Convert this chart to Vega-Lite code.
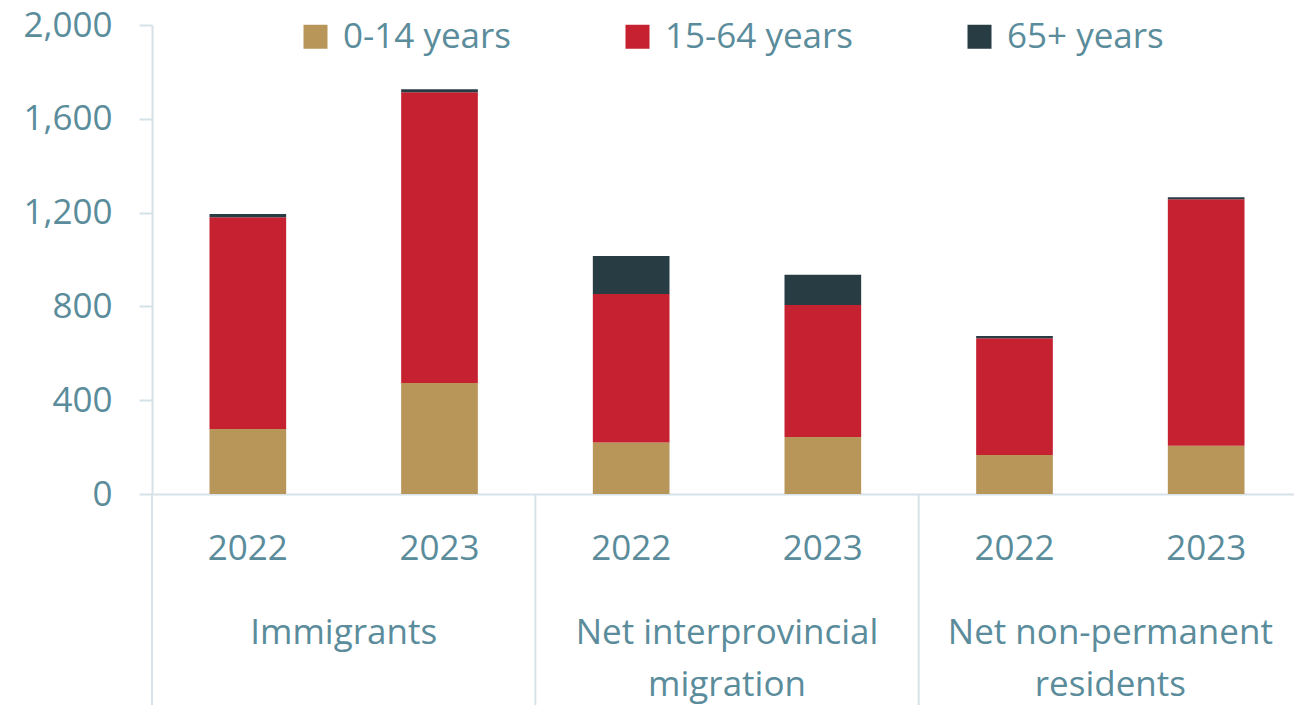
{
  "$schema": "https://vega.github.io/schema/vega-lite/v6.json",
  "width": 1150,
  "height": 469,
  "autosize": {"type": "none"},
  "padding": {"left": 152, "top": 25, "right": -8, "bottom": 211},
  "background": "white",
  "config": {
    "font": "Open Sans",
    "view": {"stroke": null},
    "axis": {"labelColor": "#5a8c9b", "labelFont": "Open Sans", "labelFontSize": 35},
    "legend": {"labelColor": "#5a8c9b", "labelFont": "Open Sans", "labelFontSize": 35}
  },
  "datasets": {
    "bars": [
      {"key": "Immigrants|2022", "age": "0-14 years", "value": 277},
      {"key": "Immigrants|2022", "age": "15-64 years", "value": 903},
      {"key": "Immigrants|2022", "age": "65+ years", "value": 14},
      {"key": "Immigrants|2023", "age": "0-14 years", "value": 473},
      {"key": "Immigrants|2023", "age": "15-64 years", "value": 1240},
      {"key": "Immigrants|2023", "age": "65+ years", "value": 13},
      {"key": "Net interprovincial migration|2022", "age": "0-14 years", "value": 220},
      {"key": "Net interprovincial migration|2022", "age": "15-64 years", "value": 633},
      {"key": "Net interprovincial migration|2022", "age": "65+ years", "value": 162},
      {"key": "Net interprovincial migration|2023", "age": "0-14 years", "value": 243},
      {"key": "Net interprovincial migration|2023", "age": "15-64 years", "value": 563},
      {"key": "Net interprovincial migration|2023", "age": "65+ years", "value": 129},
      {"key": "Net non-permanent residents|2022", "age": "0-14 years", "value": 166},
      {"key": "Net non-permanent residents|2022", "age": "15-64 years", "value": 498},
      {"key": "Net non-permanent residents|2022", "age": "65+ years", "value": 10},
      {"key": "Net non-permanent residents|2023", "age": "0-14 years", "value": 206},
      {"key": "Net non-permanent residents|2023", "age": "15-64 years", "value": 1051},
      {"key": "Net non-permanent residents|2023", "age": "65+ years", "value": 8}
    ],
    "groups": [
      {"first": "Immigrants|2022", "label": "Immigrants"},
      {"first": "Net interprovincial migration|2022", "label": "Net interprovincial\nmigration"},
      {"first": "Net non-permanent residents|2022", "label": "Net non-permanent\nresidents"}
    ]
  },
  "layer": [
    {
      "data": {"name": "bars"},
      "mark": {"type": "bar"},
      "encoding": {
        "x": {
          "field": "key",
          "type": "nominal",
          "sort": null,
          "title": null,
          "scale": {"paddingInner": 0.6, "paddingOuter": 0.3},
          "axis": {
            "labelExpr": "slice(datum.value, -4)",
            "labelAngle": 0,
            "ticks": false,
            "domainColor": "#d5e2e8",
            "domainWidth": 2,
            "labelPadding": 37,
            "grid": false
          }
        },
        "y": {
          "field": "value",
          "type": "quantitative",
          "stack": "zero",
          "title": null,
          "scale": {"domain": [0, 2000], "nice": false},
          "axis": {
            "values": [0, 400, 800, 1200, 1600, 2000],
            "format": ",.0f",
            "grid": false,
            "domainColor": "#d5e2e8",
            "domainWidth": 2,
            "tickColor": "#d5e2e8",
            "tickWidth": 2,
            "tickSize": 13,
            "labelPadding": 27
          }
        },
        "color": {
          "field": "age",
          "type": "nominal",
          "scale": {
            "domain": ["0-14 years", "15-64 years", "65+ years"],
            "range": ["#b89559", "#c52131", "#283c44"]
          },
          "legend": {
            "title": null,
            "orient": "none",
            "direction": "horizontal",
            "legendX": 146,
            "legendY": -6,
            "symbolType": "square",
            "symbolSize": 576,
            "symbolStrokeWidth": 0,
            "labelOffset": 10,
            "labelLimit": 500,
            "columnPadding": 108,
            "columns": 3
          }
        },
        "order": {"field": "age", "sort": "ascending"}
      }
    },
    {
      "data": {"name": "groups"},
      "mark": {"type": "rule", "color": "#d5e2e8", "strokeWidth": 2},
      "encoding": {
        "x": {"field": "first", "type": "nominal", "bandPosition": -0.75, "title": null},
        "y": {"datum": 0, "type": "quantitative"},
        "y2": {"datum": -900}
      }
    },
    {
      "data": {"name": "groups"},
      "mark": {"type": "text", "lineBreak": "\n", "baseline": "top", "align": "center", "fontSize": 35, "color": "#5a8c9b", "lineHeight": 52},
      "encoding": {
        "x": {"field": "first", "type": "nominal", "bandPosition": 1.75, "title": null},
        "y": {"datum": -521, "type": "quantitative"},
        "text": {"field": "label"}
      }
    }
  ]
}
